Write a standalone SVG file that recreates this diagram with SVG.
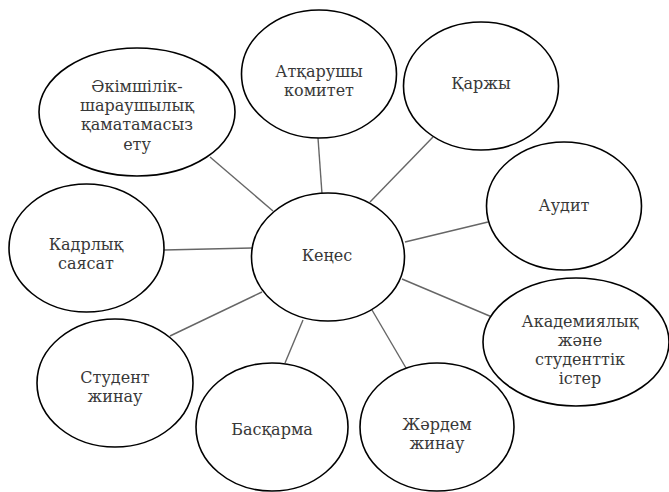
<svg xmlns="http://www.w3.org/2000/svg" width="669" height="492" viewBox="0 0 669 492">
<style>
.n ellipse{fill:#fff;stroke:#000;stroke-width:1.6}
.n text{font-family:"DejaVu Serif","Liberation Serif",serif;font-size:16px;fill:#383838;text-anchor:middle}
#edges line{stroke:#666;stroke-width:1.4}
</style>
<rect width="669" height="492" fill="#fff"/>
<g id="edges">
<line x1="318" y1="138" x2="322" y2="194"/>
<line x1="433" y1="137" x2="370" y2="202"/>
<line x1="488" y1="222" x2="405" y2="242"/>
<line x1="492" y1="317" x2="402" y2="279"/>
<line x1="406" y1="368" x2="372" y2="310"/>
<line x1="285" y1="363" x2="303" y2="320"/>
<line x1="170" y1="336" x2="262" y2="292"/>
<line x1="164" y1="250" x2="252" y2="248"/>
<line x1="210" y1="157" x2="273" y2="211"/>
</g>
<g id="kenes" class="n"><ellipse cx="328" cy="257" rx="76.5" ry="64"/><text x="327" y="261">Кеңес</text></g>
<g id="atkarushy" class="n"><ellipse cx="319" cy="74" rx="77.5" ry="64"/><text x="319" y="77">Атқарушы</text><text x="319" y="96">комитет</text></g>
<g id="karzhy" class="n"><ellipse cx="481" cy="86" rx="77.5" ry="64"/><text x="481" y="89">Қаржы</text></g>
<g id="audit" class="n"><ellipse cx="564" cy="206" rx="77.5" ry="64"/><text x="564" y="211">Аудит</text></g>
<g id="akadem" class="n"><ellipse cx="576" cy="342" rx="93" ry="64"/><text x="580" y="327">Академиялық</text><text x="580" y="346">және</text><text x="580" y="365">студенттік</text><text x="580" y="384">істер</text></g>
<g id="zhardem" class="n"><ellipse cx="437" cy="427" rx="77" ry="64"/><text x="437" y="430">Жәрдем</text><text x="437" y="449">жинау</text></g>
<g id="baskarma" class="n"><ellipse cx="272" cy="427" rx="76" ry="64"/><text x="272" y="435">Басқарма</text></g>
<g id="student" class="n"><ellipse cx="115" cy="383" rx="78" ry="64"/><text x="115" y="383">Студент</text><text x="115" y="402">жинау</text></g>
<g id="kadr" class="n"><ellipse cx="86.5" cy="248" rx="77.5" ry="64"/><text x="86" y="250">Кадрлық</text><text x="86" y="269">саясат</text></g>
<g id="akimshilik" class="n"><ellipse cx="137" cy="112" rx="98" ry="64"/><text x="137" y="92">Әкімшілік-</text><text x="137" y="111">шараушылық</text><text x="137" y="130">қаматамасыз</text><text x="137" y="150">ету</text></g>
</svg>
